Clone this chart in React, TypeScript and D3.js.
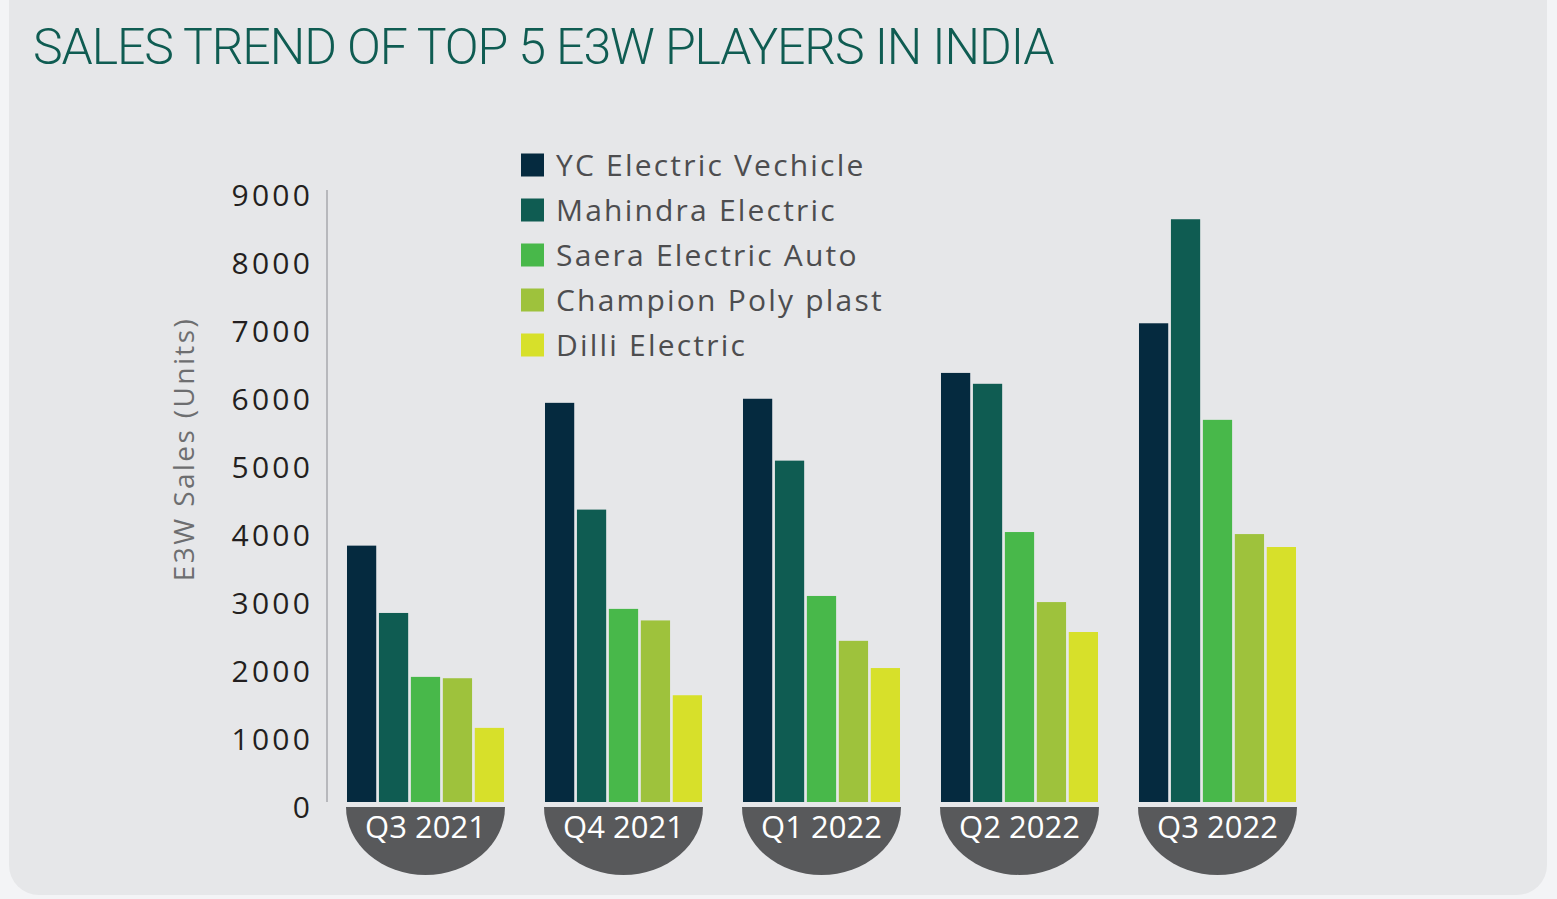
import React from "react";
import * as d3 from "d3";

const quarters = ["Q3 2021", "Q4 2021", "Q1 2022", "Q2 2022", "Q3 2022"];
const seriesNames = [
  "YC Electric Vechicle",
  "Mahindra Electric",
  "Saera Electric Auto",
  "Champion Poly plast",
  "Dilli Electric",
];
const seriesColors = ["#052a3f", "#0f5c52", "#48b84a", "#9ec23c", "#d7e02a"];
const ycElectric = [3770, 5870, 5930, 6310, 7040];
const mahindra = [2780, 4300, 5020, 6150, 8570];
const saera = [1840, 2840, 3030, 3970, 5620];
const champion = [1820, 2670, 2370, 2940, 3940];
const dilli = [1090, 1570, 1970, 2500, 3750];
const yTicks = [0, 1000, 2000, 3000, 4000, 5000, 6000, 7000, 8000, 9000];

const seriesValues = [ycElectric, mahindra, saera, champion, dilli];

const W = 1557;
const H = 899;
const FONT = "'Open Sans', 'Noto Sans', sans-serif";

export default function App() {
  const y = d3.scaleLinear().domain([0, 9000]).range([802, 190]);
  const x0 = d3
    .scaleBand<string>()
    .domain(quarters)
    .range([327, 1316])
    .paddingInner(0.207)
    .paddingOuter(0.101);
  const x1 = d3
    .scaleBand<number>()
    .domain(d3.range(seriesNames.length))
    .range([0, x0.bandwidth()])
    .paddingInner(0.085)
    .paddingOuter(0);

  const ry = 68;
  const labelTop = y(0) + 5;

  return (
    <svg
      width={W}
      height={H}
      style={{ position: "absolute", left: 0, top: 0, display: "block" }}
    >
      <rect x={0} y={0} width={W} height={H} fill="#f3f4f6" />
      <rect x={9} y={-30} width={1538} height={925} rx={30} ry={30} fill="#e6e7e9" />
      <text
        x={33}
        y={64}
        fontFamily="Roboto, sans-serif"
        fontWeight={300}
        fontSize={50}
        letterSpacing={-1.1}
        fill="#0f5c52"
      >
        SALES TREND OF TOP 5 E3W PLAYERS IN INDIA
      </text>

      {/* y axis */}
      <line x1={327} x2={327} y1={y(9000)} y2={y(0)} stroke="#a7a9ac" strokeWidth={1.5} />
      {yTicks.map((t) => (
        <text
          key={t}
          x={313}
          y={y(t) + 8}
          textAnchor="end"
          dominantBaseline="middle"
          fontFamily={FONT}
          fontSize={30}
          letterSpacing={3.2}
          fill="#231f20"
        >
          {t}
        </text>
      ))}
      <text
        transform={`translate(194, ${449}) rotate(-90)`}
        textAnchor="middle"
        fontFamily={FONT}
        fontSize={28}
        letterSpacing={2.4}
        fill="#6d6e70"
      >
        E3W Sales (Units)
      </text>

      {/* bars */}
      {quarters.map((q, qi) => (
        <g key={q} transform={`translate(${x0(q)},0)`}>
          {seriesValues.map((vals, si) => (
            <rect
              key={si}
              x={x1(si)}
              y={y(vals[qi])}
              width={x1.bandwidth()}
              height={y(0) - y(vals[qi])}
              fill={seriesColors[si]}
            />
          ))}
        </g>
      ))}

      {/* quarter labels */}
      {quarters.map((q) => {
        const cx = (x0(q) as number) + x0.bandwidth() / 2;
        const rx = x0.bandwidth() / 2 + 1;
        const d = `M${cx - rx},${labelTop} A${rx},${ry} 0 0 0 ${cx + rx},${labelTop} Z`;
        return (
          <g key={q}>
            <path d={d} fill="#58595b" />
            <text
              x={cx}
              y={labelTop + 31}
              textAnchor="middle"
              fontFamily={FONT}
              fontSize={31}
              fill="#ffffff"
            >
              {q}
            </text>
          </g>
        );
      })}

      {/* legend */}
      {seriesNames.map((name, i) => (
        <g key={name} transform={`translate(521, ${165 + i * 45})`}>
          <rect x={0} y={-11.5} width={23} height={23} fill={seriesColors[i]} />
          <text
            x={35}
            y={2.5}
            dominantBaseline="middle"
            fontFamily={FONT}
            fontSize={30}
            letterSpacing={2.2}
            fill="#4d4d4f"
          >
            {name}
          </text>
        </g>
      ))}
    </svg>
  );
}
